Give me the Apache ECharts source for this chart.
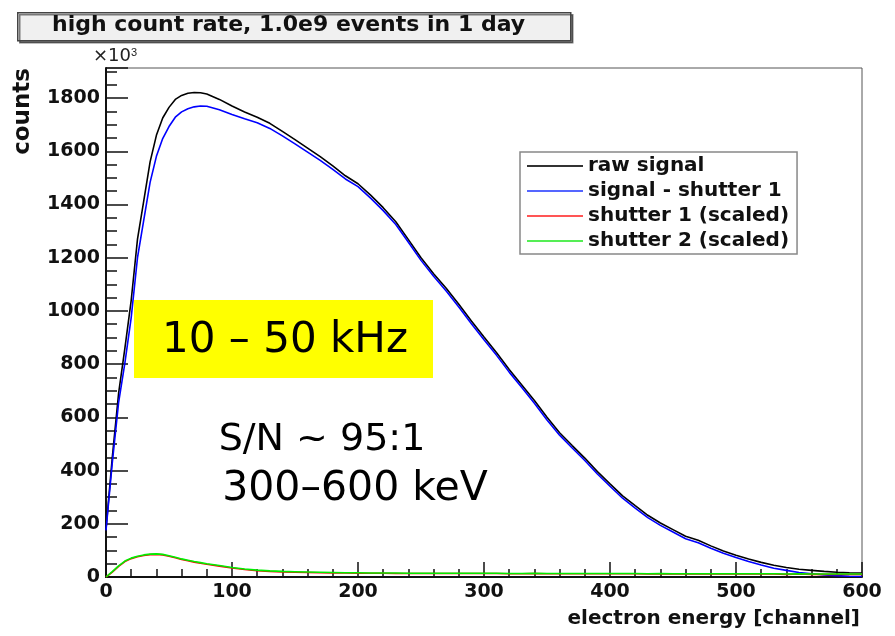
<!DOCTYPE html>
<html>
<head>
<meta charset="utf-8">
<script src="https://cdn.jsdelivr.net/npm/echarts@6/dist/echarts.min.js"></script>
<style>
    html, body { margin: 0; padding: 0; background: #fff; }
    #spectrum { width: 895px; height: 636px; }
</style>
</head>
<body>
<div id="spectrum"></div>
<script>
// electron energy channels (x) and counts in units of 10^3 (y)
const channels = [0, 5, 10, 15, 20, 25, 30, 35, 40, 45, 50, 55, 60, 65, 70, 75, 80,
    90, 100, 110, 120, 130, 140, 150, 160, 170, 180, 190, 200,
    210, 220, 230, 240, 250, 260, 270, 280, 290, 300,
    310, 320, 330, 340, 350, 360, 370, 380, 390, 400,
    410, 420, 430, 440, 450, 460, 470, 480, 490, 500,
    510, 520, 530, 540, 550, 560, 570, 580, 590, 600];

const rawSignal = [180, 450, 690, 860, 1040, 1270, 1415, 1560, 1660, 1725, 1765, 1795, 1810, 1818, 1821, 1820, 1815,
    1795, 1770, 1748, 1728, 1705, 1675, 1644, 1612, 1580, 1545, 1508, 1478,
    1435, 1388, 1335, 1268, 1200, 1140, 1085, 1025, 962, 902,
    843, 780, 722, 663, 600, 542, 494, 447, 396, 350,
    305, 268, 232, 203, 178, 153, 138, 117, 98, 82,
    68, 55, 44, 36, 29, 25, 21, 18, 16, 15];

const signalMinusShutter = [175, 430, 655, 805, 975, 1200, 1342, 1483, 1581, 1648, 1693, 1728, 1748, 1760, 1767, 1770, 1769,
    1756, 1738, 1722, 1707, 1686, 1658, 1628, 1597, 1566, 1532, 1496, 1467,
    1424, 1377, 1325, 1258, 1190, 1130, 1075, 1015, 952, 892,
    833, 770, 712, 653, 590, 533, 485, 438, 387, 341,
    296, 259, 223, 194, 169, 144, 129, 108, 89, 73,
    58, 45, 33, 25, 17, 12, 8, 5, 3, 2];

const shutter1 = [0, 18, 40, 58, 69, 76, 81, 84, 85, 83, 78, 72, 66, 61, 56, 52, 48,
    41, 34, 28, 24, 21, 19, 18, 17, 16, 15, 15, 14,
    14, 14, 13, 13, 13, 13, 13, 13, 13, 13,
    13, 12, 12, 13, 12, 12, 12, 12, 12, 12,
    12, 12, 11, 12, 11, 11, 11, 11, 11, 11,
    11, 11, 11, 10, 11, 10, 10, 10, 10, 10];

const shutter2 = [0, 20, 42, 60, 71, 78, 83, 86, 87, 85, 80, 74, 68, 63, 58, 54, 50,
    43, 36, 30, 26, 23, 21, 20, 19, 18, 17, 16, 16,
    15, 15, 15, 14, 14, 14, 14, 14, 14, 14,
    14, 13, 13, 14, 13, 13, 13, 13, 13, 13,
    13, 13, 12, 13, 12, 12, 12, 12, 12, 12,
    12, 12, 12, 11, 12, 11, 11, 11, 11, 11];

const seriesNames = ["raw signal", "signal - shutter 1", "shutter 1 (scaled)", "shutter 2 (scaled)"];
const seriesColors = ["#000000", "#0000ff", "#ff0000", "#00ee00"];
const legendColors = ["#333333", "#5566ff", "#ff5555", "#55ee55"];
const yMax = 1913;

function pairs(values) {
    return channels.map(function (c, i) {
        return [c, values[i]];
    });
}

let spectrum = echarts.init(document.getElementById("spectrum"));
let allValues = [rawSignal, signalMinusShutter, shutter1, shutter2];

spectrum.setOption({
    animation: false,
    grid: {
        left: 106,
        top: 68,
        right: 33,
        bottom: 59,
        show: true,
        borderColor: "#555",
        borderWidth: 1,
    },
    legend: {
        orient: "vertical",
        left: 520,
        top: 152,
        padding: [4, 8, 3, 7],
        itemGap: 5,
        itemWidth: 56,
        itemHeight: 2,
        icon: "rect",
        backgroundColor: "#fff",
        borderColor: "#888",
        borderWidth: 1.5,
        textStyle: {
            fontFamily: "DejaVu Sans",
            fontWeight: "bold",
            fontSize: 20,
            color: "#111",
        },
        data: seriesNames.map(function (name, i) {
            return { name: name, itemStyle: { color: legendColors[i] } };
        }),
    },
    xAxis: {
        type: "value",
        min: 0,
        max: 600,
        interval: 100,
        name: "electron energy [channel]",
        nameLocation: "end",
        nameGap: -2,
        nameTextStyle: {
            fontFamily: "DejaVu Sans",
            fontWeight: "bold",
            fontSize: 20,
            color: "#111",
            align: "right",
            verticalAlign: "top",
            padding: [32, 0, 0, 0],
        },
        axisLine: { show: true, lineStyle: { color: "#111", width: 2 } },
        axisTick: { show: true, inside: true, length: 15, lineStyle: { color: "#111", width: 1.5 } },
        minorTick: { show: true, splitNumber: 5, length: 8, lineStyle: { color: "#111", width: 1.5 } },
        splitLine: { show: false },
        axisLabel: {
            margin: 6,
            fontFamily: "DejaVu Sans",
            fontWeight: "bold",
            fontSize: 19,
            color: "#111",
        },
    },
    yAxis: {
        type: "value",
        min: 0,
        max: yMax,
        interval: 200,
        axisLine: { show: true, lineStyle: { color: "#111", width: 2 } },
        axisTick: { show: true, inside: true, length: 22, lineStyle: { color: "#111", width: 1.5 } },
        minorTick: { show: true, splitNumber: 4, length: 11, lineStyle: { color: "#111", width: 1.5 } },
        splitLine: { show: false },
        axisLabel: {
            margin: 6,
            showMaxLabel: false,
            fontFamily: "DejaVu Sans",
            fontWeight: "bold",
            fontSize: 19,
            color: "#111",
            formatter: function (v) {
                return String(v);
            },
        },
    },
    graphic: [
        {
            type: "rect",
            left: 17,
            top: 12,
            shape: { width: 553, height: 28 },
            style: { fill: "#f0f0f0", stroke: "#444", lineWidth: 1.5, shadowColor: "rgba(0,0,0,0.5)", shadowOffsetX: 2, shadowOffsetY: 2 },
        },
        {
            type: "text",
            left: 52,
            top: 14,
            style: {
                text: "high count rate, 1.0e9 events in 1 day",
                fontFamily: "DejaVu Sans",
                fontWeight: "bold",
                fontSize: 22,
                fill: "#111",
            },
        },
        {
            type: "text",
            left: 93,
            top: 47,
            style: {
                text: "×10{s|3}",
                fontFamily: "DejaVu Sans",
                fontSize: 18,
                fill: "#222",
                rich: { s: { fontSize: 11, verticalAlign: "top", padding: [0, 0, 8, 0] } },
            },
        },
        {
            type: "text",
            x: 35,
            y: 68,
            rotation: Math.PI / 2,
            style: {
                text: "counts",
                fontFamily: "DejaVu Sans",
                fontWeight: "bold",
                fontSize: 23,
                fill: "#111",
                align: "right",
                verticalAlign: "bottom",
            },
        },
        {
            type: "rect",
            left: 134,
            top: 300,
            z: 10,
            shape: { width: 299, height: 78 },
            style: { fill: "#ffff00" },
        },
        {
            type: "text",
            x: 285,
            y: 341,
            z: 11,
            style: {
                text: "10 – 50 kHz",
                fontFamily: "DejaVu Sans",
                fontSize: 42,
                fill: "#000",
                align: "center",
                verticalAlign: "middle",
            },
        },
        {
            type: "text",
            x: 322,
            y: 440,
            z: 11,
            style: {
                text: "S/N ~ 95:1",
                fontFamily: "DejaVu Sans",
                fontSize: 38,
                fill: "#000",
                align: "center",
                verticalAlign: "middle",
            },
        },
        {
            type: "text",
            x: 355,
            y: 489,
            z: 11,
            style: {
                text: "300–600 keV",
                fontFamily: "DejaVu Sans",
                fontSize: 41,
                fill: "#000",
                align: "center",
                verticalAlign: "middle",
            },
        },
    ],
    series: seriesNames.map(function (name, i) {
        return {
            name: name,
            type: "line",
            data: pairs(allValues[i]),
            showSymbol: false,
            color: seriesColors[i],
            lineStyle: { width: 1.6, color: seriesColors[i] },
            z: 2 + i,
        };
    }),
});

window.addEventListener("resize", function () {
    spectrum.resize();
});
</script>
</body>
</html>
